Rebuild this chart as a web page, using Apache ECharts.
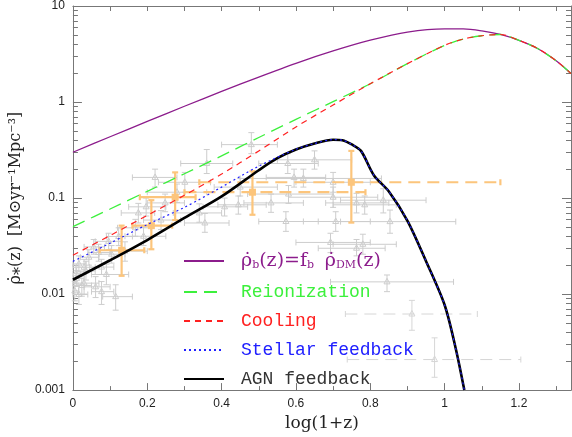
<!DOCTYPE html>
<html>
<head>
    <meta charset="UTF-8" />
    <title>Cosmic star formation rate</title>
    <script src="https://cdn.jsdelivr.net/npm/echarts@6/dist/echarts.min.js"></script>
    <style>
        html, body { margin: 0; padding: 0; background: #fff; }
        #main { width: 572px; height: 437px; }
    </style>
</head>
<body>
    <div id="main"></div>
    <script>
    // model curves, x = log(1+z)
    var modelX = [0, 0.1, 0.2, 0.3, 0.4, 0.5, 0.6, 0.7, 0.8, 0.9, 1.0, 1.05, 1.1, 1.15, 1.2, 1.25, 1.3, 1.34];
    var baryonRate = [0.30, 0.435, 0.628, 0.904, 1.29, 1.82, 2.53, 3.40, 4.40, 5.35, 5.78, 5.78, 5.51, 5.05, 4.39, 3.61, 2.69, 1.98];
    var reionRate = [0.0505, 0.0769, 0.1175, 0.179, 0.275, 0.427, 0.66, 1.01, 1.55, 2.51, 3.89, 4.52, 4.90, 5.05, 4.39, 3.61, 2.69, 1.98];
    var coolingRate = [0.0254, 0.0407, 0.066, 0.107, 0.178, 0.309, 0.55, 0.93, 1.55, 2.51, 3.89, 4.52, 4.90, 5.05, 4.39, 3.61, 2.69, 1.98];

    var agnX = [0, 0.1, 0.2, 0.3, 0.4, 0.5, 0.55, 0.6, 0.65, 0.7, 0.725, 0.75, 0.775, 0.81, 0.85, 0.9, 0.95, 1.0, 1.03, 1.053];
    var agnRate = [0.0141, 0.0225, 0.0365, 0.062, 0.104, 0.195, 0.26, 0.32, 0.37, 0.405, 0.40, 0.362, 0.31, 0.172, 0.117, 0.058, 0.022, 0.0077, 0.0027, 0.001];
    var stellarX = [0, 0.1, 0.2, 0.3, 0.4, 0.5, 0.6, 0.65, 0.7, 0.725, 0.75, 0.775, 0.81, 0.85, 0.9, 0.95, 1.0, 1.03, 1.053];
    var stellarRate = [0.0219, 0.0339, 0.053, 0.08, 0.13, 0.215, 0.322, 0.37, 0.405, 0.40, 0.362, 0.31, 0.172, 0.117, 0.058, 0.022, 0.0077, 0.0027, 0.001];

    // observational compilation (gray), error bounds
    var obsX   = [0.008, 0.016, 0.016, 0.005, 0.024, 0.035, 0.043, 0.056, 0.061, 0.069, 0.077, 0.077, 0.096, 0.104, 0.115, 0.123, 0.010, 0.030, 0.090, 0.030,
                  0.168, 0.176, 0.197, 0.221, 0.237, 0.248, 0.301, 0.36, 0.355, 0.34, 0.408, 0.445, 0.48, 0.533, 0.573, 0.578, 0.595, 0.70, 0.70, 0.62,
                  0.707, 0.693, 0.78, 0.763, 0.785, 0.835, 0.853, 0.763, 0.845, 0.45, 0.28, 0.65, 0.58, 0.14, 0.19];
    var obsY   = [0.0163, 0.0206, 0.0099, 0.0108, 0.0123, 0.0174, 0.0242, 0.031, 0.0119, 0.0271, 0.0191, 0.0106, 0.0354, 0.026, 0.0094, 0.0398, 0.0145, 0.019, 0.016, 0.013,
                  0.049, 0.070, 0.081, 0.164, 0.059, 0.089, 0.146, 0.229, 0.055, 0.070, 0.081, 0.085, 0.36, 0.089, 0.057, 0.229, 0.164, 0.146, 0.102, 0.160,
                  0.057, 0.0345, 0.033, 0.089, 0.085, 0.095, 0.0568, 0.030, 0.0134, 0.13, 0.115, 0.25, 0.11, 0.028, 0.040];
    var obsXLo = [0.0, 0.0, 0.0, 0.0, 0.0, 0.01, 0.02, 0.03, 0.03, 0.04, 0.045, 0.05, 0.06, 0.07, 0.08, 0.09, 0.0, 0.0, 0.05, 0.0,
                  0.12, 0.13, 0.15, 0.16, 0.19, 0.20, 0.23, 0.29, 0.30, 0.27, 0.35, 0.39, 0.40, 0.46, 0.50, 0.50, 0.52, 0.60, 0.58, 0.45,
                  0.62, 0.60, 0.70, 0.68, 0.70, 0.72, 0.72, 0.66, 0.693, 0.38, 0.20, 0.55, 0.47, 0.10, 0.14];
    var obsXHi = [0.02, 0.035, 0.04, 0.015, 0.05, 0.06, 0.07, 0.085, 0.10, 0.10, 0.11, 0.11, 0.13, 0.14, 0.16, 0.16, 0.03, 0.06, 0.15, 0.07,
                  0.21, 0.22, 0.25, 0.28, 0.29, 0.30, 0.37, 0.43, 0.42, 0.40, 0.47, 0.52, 0.55, 0.62, 0.66, 0.66, 0.68, 0.80, 0.82, 0.83,
                  0.80, 0.80, 0.87, 0.85, 0.87, 0.95, 1.03, 0.84, 1.024, 0.55, 0.36, 0.75, 0.70, 0.20, 0.25];
    var obsYLo = [0.013, 0.017, 0.0078, 0.0085, 0.0095, 0.014, 0.020, 0.026, 0.0092, 0.022, 0.016, 0.0078, 0.029, 0.021, 0.0068, 0.032, 0.012, 0.016, 0.0125, 0.010,
                  0.040, 0.055, 0.065, 0.13, 0.047, 0.072, 0.115, 0.18, 0.044, 0.056, 0.065, 0.068, 0.29, 0.071, 0.045, 0.18, 0.13, 0.115, 0.08, 0.13,
                  0.045, 0.027, 0.026, 0.07, 0.068, 0.07, 0.043, 0.025, 0.0106, 0.105, 0.09, 0.20, 0.088, 0.022, 0.032];
    var obsYHi = [0.020, 0.025, 0.0125, 0.0135, 0.016, 0.022, 0.029, 0.037, 0.0152, 0.033, 0.023, 0.0135, 0.043, 0.032, 0.0125, 0.049, 0.0175, 0.023, 0.0205, 0.017,
                  0.060, 0.088, 0.10, 0.20, 0.074, 0.11, 0.185, 0.32, 0.069, 0.087, 0.10, 0.105, 0.48, 0.11, 0.072, 0.29, 0.20, 0.185, 0.13, 0.20,
                  0.072, 0.043, 0.042, 0.112, 0.105, 0.125, 0.075, 0.037, 0.0158, 0.16, 0.14, 0.31, 0.135, 0.035, 0.05];

    // limits drawn with dashed horizontal bars
    var limX   = [0.912, 0.973];
    var limY   = [0.0062, 0.00208];
    var limXLo = [0.733, 0.738];
    var limXHi = [1.088, 1.205];
    var limYLo = [0.0042, 0.00136];
    var limYHi = [0.0086, 0.0035];

    // highlighted points (orange)
    var hiX    = [0.131, 0.211, 0.275, 0.483, 0.749];
    var hiY    = [0.0286, 0.0516, 0.102, 0.115, 0.146];
    var hiXLo  = [0.072, 0.16, 0.18, 0.30, 0.34];
    var hiXHi  = [0.192, 0.267, 0.33, 0.787, 1.15];
    var hiYLo  = [0.0155, 0.0293, 0.059, 0.067, 0.0555];
    var hiYHi  = [0.0516, 0.095, 0.185, 0.19, 0.31];
    var hiDash = [0, 0, 0, 1, 1];

    var minorVals = [];
    [0.001, 0.01, 0.1, 1].forEach(function (d) {
        for (var k = 2; k <= 9; k++) minorVals.push(+(d * k).toPrecision(2));
    });

    function pairs(xs, ys) {
        return xs.map(function (x, i) { return [x, ys[i]]; });
    }

    function rows(xs, ys, xl, xh, yl, yh, dash) {
        return xs.map(function (x, i) {
            return [x, ys[i], xl[i], xh[i], yl[i], yh[i], dash ? dash[i] : 0];
        });
    }

    function errRender(color, width, marker, dashAll) {
        return function (params, api) {
            var x = api.value(0), y = api.value(1);
            var c = api.coord([x, y]);
            var l = api.coord([api.value(2), y]);
            var r = api.coord([api.value(3), y]);
            var b = api.coord([x, api.value(4)]);
            var t = api.coord([x, api.value(5)]);
            var dashed = dashAll || api.value(6) === 1;
            var cap = 3;
            var st = { stroke: color, lineWidth: width, fill: null };
            var hst = dashed ? { stroke: color, lineWidth: width, fill: null, lineDash: [12, 7] } : st;
            var kids = [
                { type: 'line', shape: { x1: l[0], y1: c[1], x2: r[0], y2: c[1] }, style: hst },
                { type: 'line', shape: { x1: l[0], y1: c[1] - cap, x2: l[0], y2: c[1] + cap }, style: st },
                { type: 'line', shape: { x1: r[0], y1: c[1] - cap, x2: r[0], y2: c[1] + cap }, style: st },
                { type: 'line', shape: { x1: c[0], y1: b[1], x2: c[0], y2: t[1] }, style: st },
                { type: 'line', shape: { x1: c[0] - cap, y1: b[1], x2: c[0] + cap, y2: b[1] }, style: st },
                { type: 'line', shape: { x1: c[0] - cap, y1: t[1], x2: c[0] + cap, y2: t[1] }, style: st }
            ];
            if (marker === 'tri') {
                kids.push({ type: 'polygon', shape: { points: [[c[0], c[1] - 3.5], [c[0] - 3, c[1] + 2], [c[0] + 3, c[1] + 2]] },
                    style: { stroke: color, lineWidth: 1, fill: null } });
            } else {
                kids.push({ type: 'rect', shape: { x: c[0] - 3.5, y: c[1] - 3.5, width: 7, height: 7 },
                    style: { fill: color } });
            }
            return { type: 'group', children: kids };
        };
    }

    var purple = '#8c1c8c', green = '#3cf03c', red = '#ff2020', blue = '#2020ff', gray = '#cdcdcd', orange = '#fcc57c';
    var logFmt = function (v) { return String(+v.toPrecision(1)); };
    var serif = 'DejaVu Serif';

    var chart = echarts.init(document.getElementById('main'));
    chart.setOption({
        animation: false,
        grid: { left: 70, right: 1, top: 3, bottom: 44 },
        xAxis: [{
            type: 'value', min: 0, max: 1.34, interval: 0.2, position: 'bottom',
            name: 'log(1+z)', nameLocation: 'middle', nameGap: 18,
            nameTextStyle: { fontFamily: serif, fontSize: 17, color: '#222' },
            axisLine: { onZero: false, lineStyle: { color: '#777' } },
            axisTick: { inside: true, length: 7, lineStyle: { color: '#777' } },
            minorTick: { show: true, splitNumber: 2, length: 4, lineStyle: { color: '#777' } },
            axisLabel: { color: '#222', fontSize: 12, fontFamily: 'Liberation Sans', margin: 8, showMaxLabel: false },
            splitLine: { show: false }
        }, {
            type: 'value', min: 0, max: 1.34, interval: 0.1, position: 'top',
            axisLine: { onZero: false, lineStyle: { color: '#777' } },
            axisTick: { inside: true, length: 5, lineStyle: { color: '#777' } },
            axisLabel: { show: false },
            splitLine: { show: false }
        }],
        yAxis: [{
            type: 'log', logBase: 10, min: 0.001, max: 10, position: 'left',
            name: 'ρ̇⁎(z)  [M⊙yr⁻¹Mpc⁻³]', nameLocation: 'middle', nameGap: 36, nameRotate: 90,
            nameTextStyle: { fontFamily: serif, fontSize: 16, color: '#222' },
            axisLine: { lineStyle: { color: '#777' } },
            axisTick: { inside: true, length: 9, lineStyle: { color: '#777' } },
            axisLabel: { color: '#222', fontSize: 12, fontFamily: 'Liberation Sans', margin: 8, formatter: logFmt },
            splitLine: { show: false }
        }, {
            type: 'log', logBase: 10, min: 0.001, max: 10, position: 'left',
            axisLine: { show: false },
            axisTick: { inside: true, length: 5, customValues: minorVals, lineStyle: { color: '#777' } },
            axisLabel: { show: false },
            splitLine: { show: false }
        }, {
            type: 'log', logBase: 10, min: 0.001, max: 10, position: 'right',
            axisLine: { show: true, lineStyle: { color: '#777' } },
            axisTick: { inside: true, length: 9, lineStyle: { color: '#777' } },
            axisLabel: { show: false },
            splitLine: { show: false }
        }, {
            type: 'log', logBase: 10, min: 0.001, max: 10, position: 'right',
            axisLine: { show: false },
            axisTick: { inside: true, length: 5, customValues: minorVals, lineStyle: { color: '#777' } },
            axisLabel: { show: false },
            splitLine: { show: false }
        }],
        legend: {
            orient: 'vertical', left: 183, top: 250, padding: 0,
            itemWidth: 40, itemHeight: 14, itemGap: 11,
            itemStyle: { opacity: 0 },
            data: [
                { name: 'baryon', textStyle: { color: purple } },
                { name: 'Reionization', textStyle: { color: green } },
                { name: 'Cooling', textStyle: { color: red } },
                { name: 'Stellar feedback', textStyle: { color: blue } },
                { name: 'AGN feedback', textStyle: { color: '#333' } }
            ],
            formatter: function (name) {
                if (name === 'baryon') {
                    return '{m|ρ̇}{s|b}{m|(z)=f}{s|b} {m|ρ̇}{s|DM}{m|(z)}';
                }
                return name;
            },
            textStyle: {
                fontFamily: 'Liberation Mono', fontSize: 18, lineHeight: 14, height: 14, padding: [0, 0, 0, 12],
                rich: {
                    m: { fontFamily: serif, fontSize: 19, color: purple, lineHeight: 14, height: 14 },
                    s: { fontFamily: serif, fontSize: 11, color: purple, lineHeight: 14, height: 14, padding: [8, 0, 0, 0] }
                }
            }
        },
        series: [{
            name: 'obs', type: 'custom', z: 1, silent: true,
            renderItem: errRender(gray, 1, 'tri', false),
            encode: { x: [0, 2, 3], y: [1, 4, 5] },
            data: rows(obsX, obsY, obsXLo, obsXHi, obsYLo, obsYHi)
        }, {
            name: 'lim', type: 'custom', z: 1, silent: true,
            renderItem: errRender('#d6d6d6', 1, 'tri', true),
            encode: { x: [0, 2, 3], y: [1, 4, 5] },
            data: rows(limX, limY, limXLo, limXHi, limYLo, limYHi)
        }, {
            name: 'hi', type: 'custom', z: 2, silent: true,
            renderItem: errRender(orange, 2.2, 'sq', false),
            encode: { x: [0, 2, 3], y: [1, 4, 5] },
            data: rows(hiX, hiY, hiXLo, hiXHi, hiYLo, hiYHi, hiDash)
        }, {
            name: 'baryon', type: 'line', z: 3, smooth: 0.3, symbol: 'none',
            lineStyle: { color: purple, width: 1.3 }, itemStyle: { color: purple },
            data: pairs(modelX, baryonRate)
        }, {
            name: 'Reionization', type: 'line', z: 4, smooth: 0.3, symbol: 'none',
            lineStyle: { color: green, width: 1.3, type: [13, 7] }, itemStyle: { color: green },
            data: pairs(modelX, reionRate)
        }, {
            name: 'Cooling', type: 'line', z: 5, smooth: 0.3, symbol: 'none',
            lineStyle: { color: red, width: 1.2, type: [6, 5] }, itemStyle: { color: red },
            data: pairs(modelX, coolingRate)
        }, {
            name: 'AGN feedback', type: 'line', z: 6, smooth: 0.3, symbol: 'none', clip: true,
            lineStyle: { color: '#000', width: 2.6 }, itemStyle: { color: '#000' },
            data: pairs(agnX, agnRate)
        }, {
            name: 'Stellar feedback', type: 'line', z: 7, smooth: 0.3, symbol: 'none', clip: true,
            lineStyle: { color: blue, width: 1.2, type: [2, 3] }, itemStyle: { color: blue },
            data: pairs(stellarX, stellarRate)
        }]
    });
    </script>
</body>
</html>
